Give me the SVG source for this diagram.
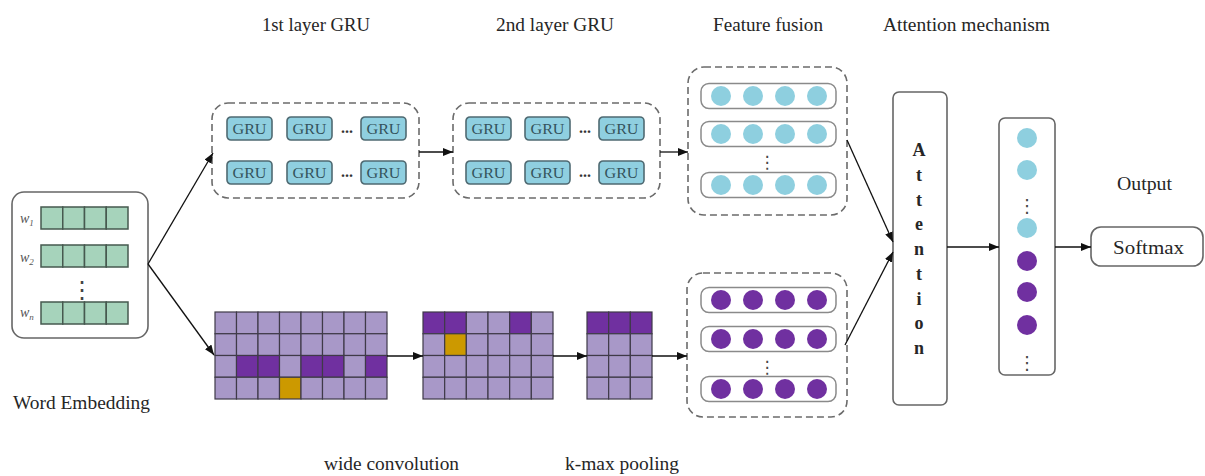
<svg xmlns="http://www.w3.org/2000/svg" width="1205" height="476" viewBox="0 0 1205 476">
  <style>
    .t{font-family:"Liberation Serif","Times New Roman",serif;font-size:18px;fill:#262626}
    .dash{fill:none;stroke:#6b6b6b;stroke-width:1.6;stroke-dasharray:7 4}
    .box{fill:#fff;stroke:#666;stroke-width:1.6}
    .gb{fill:#8fcfe0;stroke:#4f6a72;stroke-width:1.6}
    .gt{font-family:"Liberation Serif","Times New Roman",serif;font-size:15.5px;fill:#34535c;text-anchor:middle}
    .ell{font-family:"Liberation Serif",serif;font-size:16px;font-weight:bold;fill:#333;text-anchor:middle}
    .vell{font-family:"DejaVu Sans",sans-serif;fill:#444;text-anchor:middle}
    .emb{fill:#a6d3bb;stroke:#46594f;stroke-width:1.5}
    .cl{fill:#a898c8;stroke:#3f3a48;stroke-width:1.2}
    .cd{fill:#7030a0;stroke:#3f3a48;stroke-width:1.2}
    .co{fill:#cc9900;stroke:#3f3a48;stroke-width:1.2}
    .blue{fill:#8ecfdf}
    .purp{fill:#7030a0}
    .row{fill:#fff;stroke:#8a8a8a;stroke-width:1.5}
    .wl{font-family:"Liberation Serif",serif;font-style:italic;font-size:14px;fill:#555}
    .conn line{stroke:#111;stroke-width:1.3;marker-end:url(#ah)}
  </style>
  <defs>
    <marker id="ah" markerUnits="userSpaceOnUse" markerWidth="10" markerHeight="8" refX="10" refY="4" orient="auto">
      <path d="M0,0 L10,4 L0,8 z" fill="#111"/>
    </marker>
    <g id="gruCell">
      <rect class="gb" x="0" y="0" width="45" height="23" rx="4"/>
      <text class="gt" x="22.5" y="17" textLength="34" lengthAdjust="spacingAndGlyphs">GRU</text>
    </g>
    <g id="blueRow">
      <rect class="row" x="0" y="-12.5" width="135" height="25" rx="8"/>
      <circle class="blue" cx="20" cy="0" r="10"/>
      <circle class="blue" cx="52" cy="0" r="10"/>
      <circle class="blue" cx="84" cy="0" r="10"/>
      <circle class="blue" cx="116" cy="0" r="10"/>
    </g>
    <g id="purpRow">
      <rect class="row" x="0" y="-12.5" width="135" height="25" rx="8"/>
      <circle class="purp" cx="20" cy="0" r="10"/>
      <circle class="purp" cx="52" cy="0" r="10"/>
      <circle class="purp" cx="84" cy="0" r="10"/>
      <circle class="purp" cx="116" cy="0" r="10"/>
    </g>
    <g id="embRow">
      <rect class="emb" x="0" y="0" width="21.75" height="22"/>
      <rect class="emb" x="21.75" y="0" width="21.75" height="22"/>
      <rect class="emb" x="43.5" y="0" width="21.75" height="22"/>
      <rect class="emb" x="65.25" y="0" width="21.75" height="22"/>
    </g>
  </defs>

  <!-- section titles -->
  <g id="titles">
    <text class="t" x="262" y="31" textLength="108" lengthAdjust="spacingAndGlyphs">1st layer GRU</text>
    <text class="t" x="496" y="31" textLength="118" lengthAdjust="spacingAndGlyphs">2nd layer GRU</text>
    <text class="t" x="713" y="31" textLength="110" lengthAdjust="spacingAndGlyphs">Feature fusion</text>
    <text class="t" x="883" y="31" textLength="167" lengthAdjust="spacingAndGlyphs">Attention mechanism</text>
    <text class="t" x="1117" y="190" textLength="55" lengthAdjust="spacingAndGlyphs">Output</text>
    <text class="t" x="13" y="409" textLength="137" lengthAdjust="spacingAndGlyphs">Word Embedding</text>
    <text class="t" x="324" y="470" textLength="135" lengthAdjust="spacingAndGlyphs">wide convolution</text>
    <text class="t" x="565" y="470" textLength="114" lengthAdjust="spacingAndGlyphs">k-max pooling</text>
  </g>

  <!-- word embedding input -->
  <g id="embedding">
    <rect class="box" x="12" y="192" width="136" height="146" rx="12"/>
    <use href="#embRow" x="41" y="207"/>
    <use href="#embRow" x="41" y="245"/>
    <use href="#embRow" x="41" y="302"/>
    <text class="wl" x="20" y="223">w<tspan font-size="9" dy="3">1</tspan></text>
    <text class="wl" x="20" y="262">w<tspan font-size="9" dy="3">2</tspan></text>
    <text class="wl" x="20" y="317">w<tspan font-size="9" dy="3">n</tspan></text>
    <text class="vell" x="82" y="298" font-size="24">⋮</text>
  </g>

  <!-- first GRU layer -->
  <g id="gru1">
    <rect class="dash" x="212" y="103" width="207" height="95" rx="16"/>
    <use href="#gruCell" x="227" y="117"/>
    <use href="#gruCell" x="287" y="117"/>
    <use href="#gruCell" x="361" y="117"/>
    <use href="#gruCell" x="227" y="161"/>
    <use href="#gruCell" x="287" y="161"/>
    <use href="#gruCell" x="361" y="161"/>
    <text class="ell" x="347" y="133">...</text>
    <text class="ell" x="347" y="177">...</text>
  </g>

  <!-- second GRU layer -->
  <g id="gru2">
    <rect class="dash" x="453" y="103" width="207" height="95" rx="16"/>
    <use href="#gruCell" x="466" y="117"/>
    <use href="#gruCell" x="525" y="117"/>
    <use href="#gruCell" x="599" y="117"/>
    <use href="#gruCell" x="466" y="161"/>
    <use href="#gruCell" x="525" y="161"/>
    <use href="#gruCell" x="599" y="161"/>
    <text class="ell" x="585" y="133">...</text>
    <text class="ell" x="585" y="177">...</text>
  </g>

  <!-- wide convolution feature map -->
  <g id="conv">
    <rect class="cl" x="215" y="312" width="21.5" height="21.75"/>
    <rect class="cl" x="236.5" y="312" width="21.5" height="21.75"/>
    <rect class="cl" x="258" y="312" width="21.5" height="21.75"/>
    <rect class="cl" x="279.5" y="312" width="21.5" height="21.75"/>
    <rect class="cl" x="301" y="312" width="21.5" height="21.75"/>
    <rect class="cl" x="322.5" y="312" width="21.5" height="21.75"/>
    <rect class="cl" x="344" y="312" width="21.5" height="21.75"/>
    <rect class="cl" x="365.5" y="312" width="21.5" height="21.75"/>
    <rect class="cl" x="215" y="333.75" width="21.5" height="21.75"/>
    <rect class="cl" x="236.5" y="333.75" width="21.5" height="21.75"/>
    <rect class="cl" x="258" y="333.75" width="21.5" height="21.75"/>
    <rect class="cl" x="279.5" y="333.75" width="21.5" height="21.75"/>
    <rect class="cl" x="301" y="333.75" width="21.5" height="21.75"/>
    <rect class="cl" x="322.5" y="333.75" width="21.5" height="21.75"/>
    <rect class="cl" x="344" y="333.75" width="21.5" height="21.75"/>
    <rect class="cl" x="365.5" y="333.75" width="21.5" height="21.75"/>
    <rect class="cl" x="215" y="355.5" width="21.5" height="21.75"/>
    <rect class="cd" x="236.5" y="355.5" width="21.5" height="21.75"/>
    <rect class="cd" x="258" y="355.5" width="21.5" height="21.75"/>
    <rect class="cl" x="279.5" y="355.5" width="21.5" height="21.75"/>
    <rect class="cd" x="301" y="355.5" width="21.5" height="21.75"/>
    <rect class="cd" x="322.5" y="355.5" width="21.5" height="21.75"/>
    <rect class="cl" x="344" y="355.5" width="21.5" height="21.75"/>
    <rect class="cd" x="365.5" y="355.5" width="21.5" height="21.75"/>
    <rect class="cl" x="215" y="377.25" width="21.5" height="21.75"/>
    <rect class="cl" x="236.5" y="377.25" width="21.5" height="21.75"/>
    <rect class="cl" x="258" y="377.25" width="21.5" height="21.75"/>
    <rect class="co" x="279.5" y="377.25" width="21.5" height="21.75"/>
    <rect class="cl" x="301" y="377.25" width="21.5" height="21.75"/>
    <rect class="cl" x="322.5" y="377.25" width="21.5" height="21.75"/>
    <rect class="cl" x="344" y="377.25" width="21.5" height="21.75"/>
    <rect class="cl" x="365.5" y="377.25" width="21.5" height="21.75"/>
  </g>

  <!-- second feature map -->
  <g id="conv2">
    <rect class="cd" x="423" y="312" width="21.67" height="21.75"/>
    <rect class="cd" x="444.67" y="312" width="21.67" height="21.75"/>
    <rect class="cl" x="466.33" y="312" width="21.67" height="21.75"/>
    <rect class="cl" x="488" y="312" width="21.67" height="21.75"/>
    <rect class="cd" x="509.67" y="312" width="21.67" height="21.75"/>
    <rect class="cl" x="531.33" y="312" width="21.67" height="21.75"/>
    <rect class="cl" x="423" y="333.75" width="21.67" height="21.75"/>
    <rect class="co" x="444.67" y="333.75" width="21.67" height="21.75"/>
    <rect class="cl" x="466.33" y="333.75" width="21.67" height="21.75"/>
    <rect class="cl" x="488" y="333.75" width="21.67" height="21.75"/>
    <rect class="cl" x="509.67" y="333.75" width="21.67" height="21.75"/>
    <rect class="cl" x="531.33" y="333.75" width="21.67" height="21.75"/>
    <rect class="cl" x="423" y="355.5" width="21.67" height="21.75"/>
    <rect class="cl" x="444.67" y="355.5" width="21.67" height="21.75"/>
    <rect class="cl" x="466.33" y="355.5" width="21.67" height="21.75"/>
    <rect class="cl" x="488" y="355.5" width="21.67" height="21.75"/>
    <rect class="cl" x="509.67" y="355.5" width="21.67" height="21.75"/>
    <rect class="cl" x="531.33" y="355.5" width="21.67" height="21.75"/>
    <rect class="cl" x="423" y="377.25" width="21.67" height="21.75"/>
    <rect class="cl" x="444.67" y="377.25" width="21.67" height="21.75"/>
    <rect class="cl" x="466.33" y="377.25" width="21.67" height="21.75"/>
    <rect class="cl" x="488" y="377.25" width="21.67" height="21.75"/>
    <rect class="cl" x="509.67" y="377.25" width="21.67" height="21.75"/>
    <rect class="cl" x="531.33" y="377.25" width="21.67" height="21.75"/>
  </g>

  <!-- k-max pooling result -->
  <g id="kmax">
    <rect class="cd" x="587" y="312" width="21.67" height="21.75"/>
    <rect class="cd" x="608.67" y="312" width="21.67" height="21.75"/>
    <rect class="cd" x="630.33" y="312" width="21.67" height="21.75"/>
    <rect class="cl" x="587" y="333.75" width="21.67" height="21.75"/>
    <rect class="cl" x="608.67" y="333.75" width="21.67" height="21.75"/>
    <rect class="cl" x="630.33" y="333.75" width="21.67" height="21.75"/>
    <rect class="cl" x="587" y="355.5" width="21.67" height="21.75"/>
    <rect class="cl" x="608.67" y="355.5" width="21.67" height="21.75"/>
    <rect class="cl" x="630.33" y="355.5" width="21.67" height="21.75"/>
    <rect class="cl" x="587" y="377.25" width="21.67" height="21.75"/>
    <rect class="cl" x="608.67" y="377.25" width="21.67" height="21.75"/>
    <rect class="cl" x="630.33" y="377.25" width="21.67" height="21.75"/>
  </g>

  <!-- feature fusion, GRU branch -->
  <g id="fusionTop">
    <rect class="dash" x="688" y="67" width="159" height="148" rx="16"/>
    <use href="#blueRow" x="701" y="96"/>
    <use href="#blueRow" x="701" y="134"/>
    <use href="#blueRow" x="701" y="185"/>
    <text class="vell" x="767" y="168" font-size="17">⋮</text>
  </g>

  <!-- feature fusion, CNN branch -->
  <g id="fusionBottom">
    <rect class="dash" x="687" y="273" width="160" height="144" rx="16"/>
    <use href="#purpRow" x="701" y="300"/>
    <use href="#purpRow" x="701" y="339"/>
    <use href="#purpRow" x="701" y="389"/>
    <text class="vell" x="767" y="373" font-size="17">⋮</text>
  </g>

  <!-- attention layer -->
  <g id="attention">
    <rect class="box" x="893" y="92" width="54" height="313" rx="6"/>
    <text class="t" font-weight="bold" font-size="19" text-anchor="middle" x="919" y="156">A<tspan x="919" dy="24.75">t</tspan><tspan x="919" dy="24.75">t</tspan><tspan x="919" dy="24.75">e</tspan><tspan x="919" dy="24.75">n</tspan><tspan x="919" dy="24.75">t</tspan><tspan x="919" dy="24.75">i</tspan><tspan x="919" dy="24.75">o</tspan><tspan x="919" dy="24.75">n</tspan></text>
  </g>

  <!-- attended vector -->
  <g id="vector">
    <rect class="box" x="999" y="118" width="56" height="257" rx="6"/>
    <circle class="blue" cx="1027" cy="138" r="10"/>
    <circle class="blue" cx="1027" cy="170" r="10"/>
    <text class="vell" x="1027" y="212" font-size="18">⋮</text>
    <circle class="blue" cx="1027" cy="228" r="10"/>
    <circle class="purp" cx="1027" cy="261" r="10"/>
    <circle class="purp" cx="1027" cy="292" r="10"/>
    <circle class="purp" cx="1027" cy="325" r="10"/>
    <text class="vell" x="1027" y="369" font-size="18">⋮</text>
  </g>

  <!-- output -->
  <g id="softmax">
    <rect class="box" x="1091" y="227" width="112" height="39" rx="10"/>
    <text class="t" x="1113" y="254" textLength="71" lengthAdjust="spacingAndGlyphs">Softmax</text>
  </g>

  <!-- connectors -->
  <g id="connectors" class="conn">
    <line x1="148" y1="264" x2="213" y2="153"/>
    <line x1="148" y1="264" x2="214" y2="355"/>
    <line x1="419" y1="152" x2="453" y2="152"/>
    <line x1="660" y1="152" x2="688" y2="152"/>
    <line x1="387" y1="356" x2="423" y2="356"/>
    <line x1="553" y1="356" x2="587" y2="356"/>
    <line x1="652" y1="356" x2="687" y2="356"/>
    <line x1="847" y1="140" x2="893" y2="242"/>
    <line x1="845" y1="345" x2="893" y2="252"/>
    <line x1="947" y1="247" x2="999" y2="247"/>
    <line x1="1055" y1="247" x2="1091" y2="247"/>
  </g>
</svg>
